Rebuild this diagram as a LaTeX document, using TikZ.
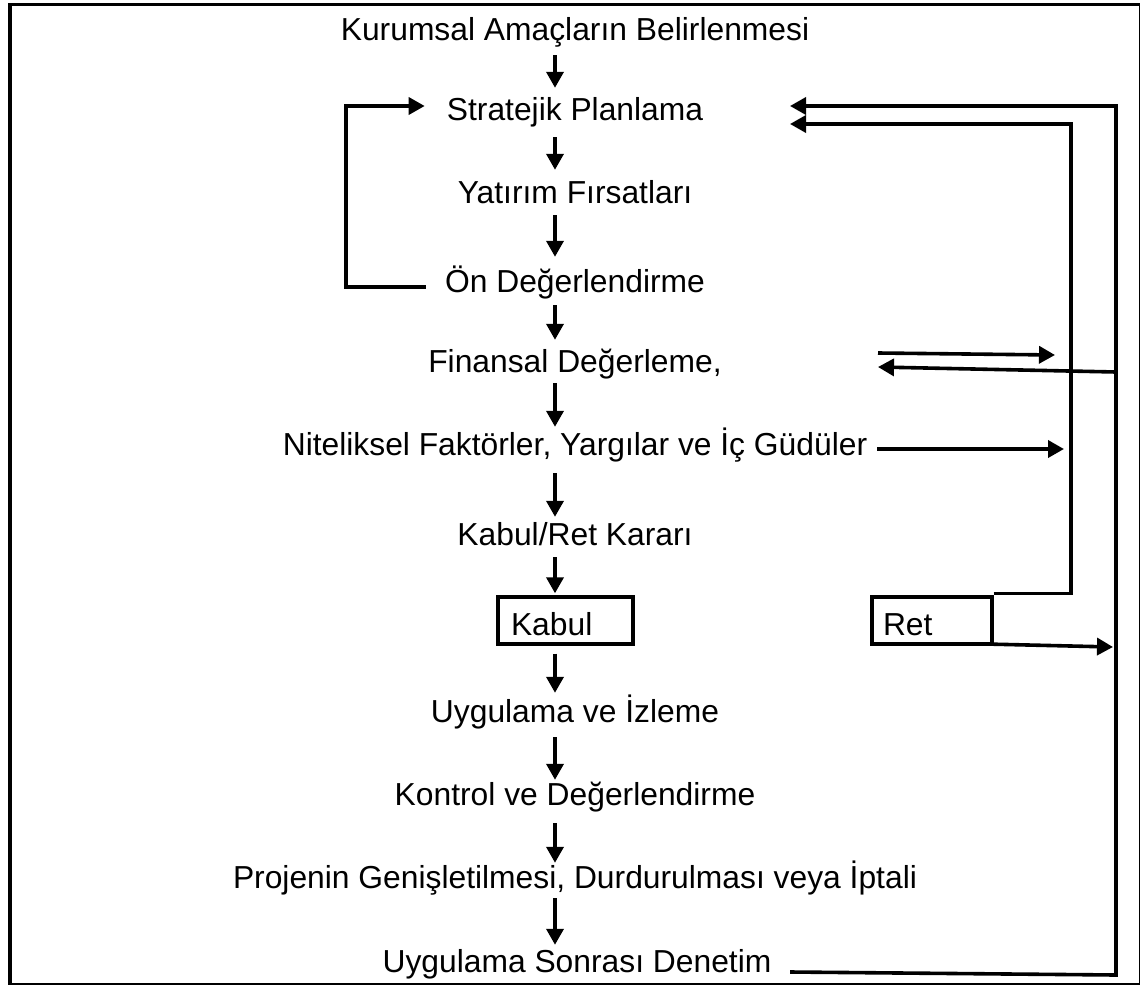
\documentclass[tikz,border=0pt]{standalone}
\usepackage{fontspec}
\setmainfont{Liberation Sans}
\usetikzlibrary{arrows.meta}
\begin{document}
\begin{tikzpicture}[x=1pt,y=-1pt,
  txt/.style={font=\fontsize{31.8}{38}\selectfont, inner sep=0pt, text height=22pt, text depth=7pt, anchor=base},
  boxnode/.style={draw, line width=3.4pt, font=\fontsize{31.8}{38}\selectfont, minimum height=47pt, text height=29pt, text depth=0pt, inner ysep=0pt, align=left},
  arr/.style={line width=3.6pt, -{Triangle[width=17pt,length=16pt]}}
]
\useasboundingbox (0,0) rectangle (1141,985);
\fill[white] (0,0) rectangle (1141,985);
% frame
\draw[line width=1.3pt] (10,4.5) rectangle (1139.5,984);
\draw[line width=3.2pt] (10,984.5) -- (10,4.5) -- (1140,4.5);

% main column
\node[txt] (n1) at (575,40) {Kurumsal Amaçların Belirlenmesi};
\node[txt] (n2) at (575,120) {Stratejik Planlama};
\node[txt] (n3) at (575,203) {Yatırım Fırsatları};
\node[txt] (n4) at (575,292) {Ön Değerlendirme};
\node[txt] (n5) at (575,372) {Finansal Değerleme,};
\node[txt] (n6) at (575,455) {Niteliksel Faktörler, Yargılar ve İç Güdüler};
\node[txt] (n7) at (575,545) {Kabul/Ret Kararı};
\node[boxnode, minimum width=135pt, text width=109pt, inner xsep=13pt] (kab) at (565.5,620.5) {Kabul};
\node[boxnode, minimum width=120pt, text width=98pt, inner xsep=11pt] (ret) at (932,620.5) {Ret};
\node[txt] (n8) at (575,722) {Uygulama ve İzleme};
\node[txt] (n9) at (575,805) {Kontrol ve Değerlendirme};
\node[txt] (n10) at (575,888) {Projenin Genişletilmesi, Durdurulması veya İptali};
\node[txt] (n11) at (577,972) {Uygulama Sonrası Denetim};

% helper coordinates
\coordinate (ax) at (555,0);
\coordinate (ob) at (1116,975);
\coordinate (ot) at (1116,106);
\coordinate (t1) at (790,106);
\coordinate (it) at (1071,124);
\coordinate (t2) at (790,124);
\coordinate (rt) at (1113,647);
\coordinate (f1) at (878,353);
\coordinate (f2) at (1055,355);
\coordinate (f3) at (1116,372);
\coordinate (f4) at (878,367);
\coordinate (nt) at (1064,449);

% vertical arrows
\draw[arr, shorten <=8pt, shorten >=10pt] (n1.south -| ax) -- (n2.north -| ax);
\draw[arr, shorten <=10pt, shorten >=11pt] (n2.south -| ax) -- (n3.north -| ax);
\draw[arr, shorten <=5pt, shorten >=13pt] (n3.south -| ax) -- (n4.north -| ax);
\draw[arr, shorten <=6pt, shorten >=10pt] (n4.south -| ax) -- (n5.north -| ax);
\draw[arr, shorten <=4pt, shorten >=6pt] (n5.south -| ax) -- (n6.north -| ax);
\draw[arr, shorten <=11pt, shorten >=6pt] (n6.south -| ax) -- (n7.north -| ax);
\draw[arr, shorten <=5pt, shorten >=2pt] (n7.south -| ax) -- (kab.north -| ax);
\draw[arr, shorten <=8pt, shorten >=7pt] (kab.south -| ax) -- (n8.north -| ax);
\draw[arr, shorten <=8pt, shorten >=3pt] (n8.south -| ax) -- (n9.north -| ax);
\draw[arr, shorten <=11pt, shorten >=3pt] (n9.south -| ax) -- (n10.north -| ax);
\draw[arr, shorten <=3pt, shorten >=5pt] (n10.south -| ax) -- (n11.north -| ax);

% left feedback loop
\draw[arr] ([xshift=-19pt,yshift=-2.5pt]n4.west) -- ++(-80,0) |- ([xshift=-22pt,yshift=6.5pt]n2.west);

% outer right loop
\draw[arr] ([xshift=18.5pt,yshift=-7.5pt]n11.east) -- (ob) -- (ot) -- (t1);
% inner right loop from Ret
\draw[arr] ([yshift=2pt]ret.north east) -| (it) -- (t2);
% Ret to outer line
\draw[arr] ([yshift=1.5pt]ret.south east) -- (rt);
% Finansal arrows
\draw[arr] (f1) -- (f2);
\draw[arr] (f3) -- (f4);
% Niteliksel arrow
\draw[arr] ([xshift=10pt,yshift=-1.5pt]n6.east) -- (nt);
\end{tikzpicture}
\end{document}
